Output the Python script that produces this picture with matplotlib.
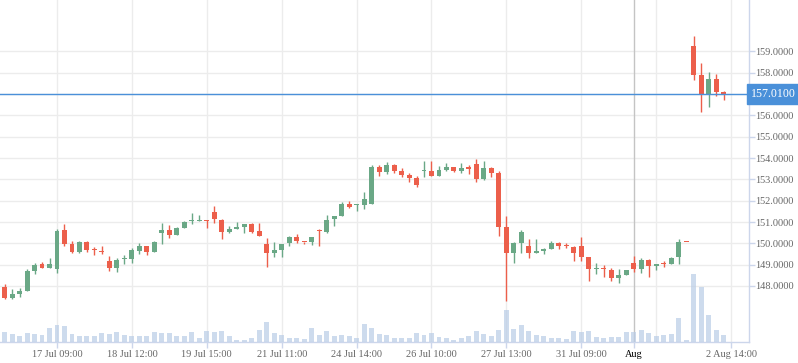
# plot.py
# ─────────────────────────────────────────────
# Hourly candlestick chart with volume, 17 Jul – 2 Aug
# ─────────────────────────────────────────────

import matplotlib
matplotlib.use("Agg")
import matplotlib.pyplot as plt

# ─────────────────────────────────────────────
# DATA
# ─────────────────────────────────────────────
opens = [
    147.94, 147.45, 147.64, 147.78, 148.72, 149.02, 148.86, 148.80, 150.63, 149.97,
    149.61, 150.08, 149.70, 149.62, 149.17, 148.86, 149.26, 149.28, 149.64, 149.88,
    149.61, 150.50, 150.63, 150.41, 150.73, 151.05, 151.05, 151.06, 151.45, 151.09,
    150.55, 150.67, 150.78, 150.91, 150.58, 149.95, 149.56, 149.69, 150.00, 150.31,
    150.07, 150.05, 150.61, 150.55, 151.12, 151.30, 151.84, 151.79, 151.80, 151.83,
    153.56, 153.33, 153.67, 153.39, 153.20, 153.05, 153.38, 153.39, 153.17, 153.44,
    153.56, 153.39, 153.53, 153.72, 153.02, 153.52, 153.31, 150.75, 149.56, 150.03,
    149.88, 149.53, 149.66, 149.75, 150.03, 149.89, 149.84, 149.88, 149.38, 148.79,
    148.81, 148.75, 148.39, 148.52, 149.06, 148.80, 149.22, 148.94, 149.03, 149.03,
    149.34, 150.06, 159.25, 157.89, 156.98, 157.73, 157.11,
]
highs = [
    148.09, 147.84, 147.89, 148.80, 149.08, 149.13, 149.31, 150.67, 150.91, 150.13,
    150.11, 150.11, 149.84, 149.88, 149.41, 149.33, 149.45, 149.77, 150.03, 149.88,
    150.11, 150.97, 150.84, 150.76, 151.05, 151.41, 151.33, 151.09, 151.75, 151.14,
    150.81, 151.02, 150.89, 150.94, 150.94, 150.23, 150.05, 149.98, 150.34, 150.44,
    150.08, 150.28, 150.66, 151.33, 151.30, 151.92, 151.98, 151.84, 152.39, 153.67,
    153.67, 153.80, 153.70, 153.52, 153.28, 153.16, 153.88, 153.88, 153.63, 153.75,
    153.59, 153.75, 153.67, 153.95, 153.86, 153.59, 153.41, 151.28, 150.08, 150.63,
    150.20, 150.20, 149.77, 150.11, 150.08, 150.03, 149.88, 150.31, 149.38, 149.09,
    148.98, 148.83, 148.78, 148.75, 149.41, 149.30, 149.27, 149.02, 149.17, 149.34,
    150.19, 150.06, 159.73, 158.44, 158.05, 157.94, 157.16,
]
lows = [
    147.38, 147.38, 147.47, 147.78, 148.55, 148.86, 148.86, 148.59, 149.89, 149.56,
    149.53, 149.61, 149.45, 149.48, 148.72, 148.66, 149.02, 149.06, 149.48, 149.45,
    149.61, 149.95, 150.27, 150.41, 150.73, 150.89, 151.04, 150.73, 150.94, 150.20,
    150.47, 150.67, 150.50, 150.47, 150.36, 148.91, 149.38, 149.38, 149.89, 150.00,
    149.95, 149.92, 149.89, 150.50, 150.83, 151.30, 151.67, 151.53, 151.59, 151.83,
    153.16, 153.23, 153.28, 153.13, 152.89, 152.66, 153.09, 153.17, 153.17, 153.41,
    153.36, 153.28, 153.23, 152.89, 152.97, 153.13, 150.36, 147.31, 149.09, 149.56,
    149.30, 149.53, 149.48, 149.75, 149.73, 149.80, 149.17, 149.17, 148.25, 148.55,
    148.44, 148.23, 148.16, 148.52, 148.67, 148.63, 148.44, 148.75, 148.91, 149.03,
    149.02, 150.04, 157.66, 156.17, 156.41, 156.91, 156.72,
]
closes = [
    147.45, 147.63, 147.78, 148.72, 148.97, 148.86, 149.02, 150.58, 149.97, 149.61,
    150.08, 149.69, 149.68, 149.60, 148.86, 149.22, 149.28, 149.69, 149.88, 149.61,
    150.08, 150.63, 150.41, 150.73, 151.02, 151.07, 151.07, 151.04, 151.12, 150.55,
    150.66, 150.78, 150.89, 150.55, 150.36, 149.56, 149.69, 149.95, 150.31, 150.13,
    150.05, 150.28, 150.57, 151.09, 151.28, 151.83, 151.72, 151.81, 152.06, 153.59,
    153.33, 153.67, 153.41, 153.20, 153.08, 152.73, 153.40, 153.17, 153.44, 153.56,
    153.39, 153.52, 153.51, 153.02, 153.55, 153.31, 150.78, 149.56, 150.03, 150.52,
    149.53, 149.64, 149.75, 150.00, 149.89, 149.87, 149.53, 149.38, 148.80, 148.81,
    148.79, 148.39, 148.52, 148.75, 148.80, 149.22, 148.95, 149.02, 149.01, 149.30,
    150.05, 150.04, 157.89, 156.98, 157.73, 157.11, 157.01,
]
volumes = [
    97, 83, 57, 90, 77, 67, 143, 173, 163, 83,
    57, 57, 57, 95, 83, 103, 67, 57, 57, 57,
    103, 90, 90, 63, 63, 103, 43, 110, 97, 113,
    57, 23, 23, 43, 123, 203, 90, 73, 43, 43,
    33, 143, 73, 113, 57, 73, 57, 43, 183, 143,
    83, 73, 43, 43, 43, 93, 73, 93, 53, 43,
    23, 43, 63, 113, 83, 63, 123, 323, 133, 173,
    113, 73, 63, 43, 40, 30, 113, 103, 113, 53,
    43, 53, 53, 103, 103, 123, 93, 57, 67, 83,
    240, 20, 677, 550, 267, 117, 67,
]

tick_idx    = [7, 17, 27, 37, 47, 57, 67, 77, 84, 97]
tick_labels = ["17 Jul 09:00", "18 Jul 12:00", "19 Jul 15:00", "21 Jul 11:00",
               "24 Jul 14:00", "26 Jul 10:00", "27 Jul 13:00", "31 Jul 09:00",
               "Aug", "2 Aug 14:00"]
grid_idx    = [7, 17, 27, 37, 47, 57, 67, 77, 87, 97]
month_idx   = 84
price_ticks = list(range(148, 160))

# ─────────────────────────────────────────────
# STYLE
# ─────────────────────────────────────────────
UP     = "#6aa886"
DOWN   = "#ec5f4b"
VOLCOL = "#b9cce6"
GRID   = "#ececec"
AXIS   = "#ccd6eb"
BLUE   = "#4a90d9"
LABEL  = "#666666"

plt.rcParams["font.family"] = ["Liberation Serif", "DejaVu Serif"]

W, H = 798, 363
fig = plt.figure(figsize=(W / 100, H / 100), dpi=100)
rect = [0, 21 / H, 749 / W, 342 / H]

ax  = fig.add_axes(rect)
vax = fig.add_axes(rect, sharex=ax)
vax.patch.set_alpha(0)

x = list(range(len(opens)))
xlim = (-0.61, 99.39)

# ─────────────────────────────────────────────
# PRICE AXIS — grid + candles
# ─────────────────────────────────────────────
ax.set_xlim(*xlim)
ax.set_ylim(145.373, 161.414)

for p in price_ticks:
    ax.axhline(p, color=GRID, lw=1, zorder=0)
for g in grid_idx:
    ax.axvline(g, color=GRID, lw=1, zorder=0)
ax.axvline(month_idx, color="#c4c4c4", lw=1, zorder=0.5)

min_body = 0.05
for i in x:
    o, h, l, c = opens[i], highs[i], lows[i], closes[i]
    col = UP if c >= o else DOWN
    ax.vlines(i, l, h, color=col, lw=1, zorder=2)
    bottom = min(o, c)
    height = max(abs(c - o), min_body)
    ax.bar(i, height, bottom=bottom, width=0.66, color=col, lw=0, zorder=3)

# current price line + label
last = closes[-1]
ax.axhline(last, color=BLUE, lw=1, zorder=5)
ax.text(1.003, last, f"{last:.4f}", transform=ax.get_yaxis_transform(),
        ha="left", va="center", color="white", fontsize=8.6, zorder=6,
        clip_on=False,
        bbox=dict(boxstyle="square,pad=0.32", fc=BLUE, ec=BLUE))

ax.yaxis.tick_right()
ax.set_yticks(price_ticks)
ax.set_yticklabels(["" if p == 157 else f"{p:.4f}" for p in price_ticks])
ax.tick_params(axis="y", length=4, width=1, color=AXIS, labelcolor=LABEL,
               labelsize=7.4, pad=0.5)

ax.set_xticks(tick_idx)
ax.set_xticklabels(tick_labels)
ax.tick_params(axis="x", length=4, width=1, color=AXIS, labelcolor=LABEL,
               labelsize=7.4, pad=2)
for lbl in ax.get_xticklabels():
    if lbl.get_text() == "Aug":
        lbl.set_color("black")

for side in ["left", "top"]:
    ax.spines[side].set_visible(False)
for side in ["right", "bottom"]:
    ax.spines[side].set_color(AXIS)
    ax.spines[side].set_linewidth(1)

# ─────────────────────────────────────────────
# VOLUME AXIS (overlaid, bottom of panel)
# ─────────────────────────────────────────────
vax.bar(x, volumes, width=0.66, color=VOLCOL, alpha=0.7, lw=0, zorder=1)
vax.set_ylim(0, 3420)
vax.set_yticks([])
vax.tick_params(axis="x", bottom=False, labelbottom=False)
for s in vax.spines.values():
    s.set_visible(False)

fig.savefig("out.png", dpi=100)
